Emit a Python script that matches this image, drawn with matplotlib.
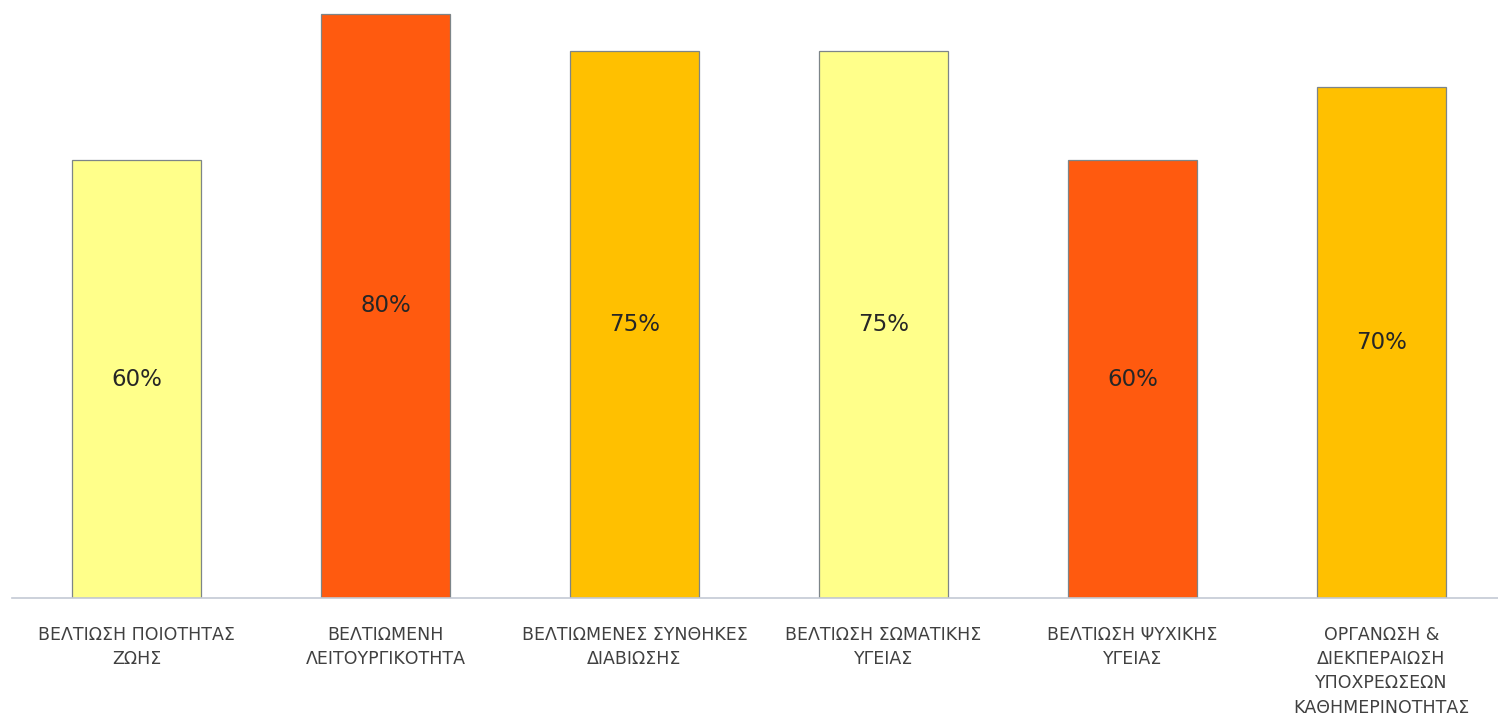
import matplotlib
matplotlib.use("Agg")
from matplotlib import pyplot as plt

categories = [
    "ΒΕΛΤΙΩΣΗ ΠΟΙΟΤΗΤΑΣ\nΖΩΗΣ",
    "ΒΕΛΤΙΩΜΕΝΗ\nΛΕΙΤΟΥΡΓΙΚΟΤΗΤΑ",
    "ΒΕΛΤΙΩΜΕΝΕΣ ΣΥΝΘΗΚΕΣ\nΔΙΑΒΙΩΣΗΣ",
    "ΒΕΛΤΙΩΣΗ ΣΩΜΑΤΙΚΗΣ\nΥΓΕΙΑΣ",
    "ΒΕΛΤΙΩΣΗ ΨΥΧΙΚΗΣ\nΥΓΕΙΑΣ",
    "ΟΡΓΑΝΩΣΗ &\nΔΙΕΚΠΕΡΑΙΩΣΗ\nΥΠΟΧΡΕΩΣΕΩΝ\nΚΑΘΗΜΕΡΙΝΟΤΗΤΑΣ",
]
values = [60, 80, 75, 75, 60, 70]
colors = ["#FFFF8A", "#FF5A0F", "#FFC000", "#FFFF8A", "#FF5A0F", "#FFC000"]


def main():
    fig = plt.figure(figsize=(14.98, 7.16), dpi=100)
    ax = fig.add_axes([12 / 1498, 118 / 716, 1494 / 1498, 598 / 716])

    x = list(range(len(values)))
    ax.bar(x, values, width=0.515, color=colors, edgecolor="#7d8588", linewidth=0.9)

    for xi, v in zip(x, values):
        ax.text(xi, v / 2, "{}%".format(v), ha="center", va="center",
                fontsize=16.5, color="#262626")

    ax.set_xlim(-0.5, 5.5)
    ax.set_ylim(0, 80 * 598 / 584)
    ax.set_xticks(x)
    ax.set_xticklabels(categories, fontsize=12.5, color="#404040", linespacing=1.45)
    ax.tick_params(axis="x", length=0, pad=20)
    ax.set_yticks([])

    for side in ["top", "left", "right"]:
        ax.spines[side].set_visible(False)
    ax.spines["bottom"].set_color("#c3c9d4")
    ax.spines["bottom"].set_linewidth(1.2)

    fig.savefig("out.png", dpi=100)


if __name__ == "__main__":
    main()
